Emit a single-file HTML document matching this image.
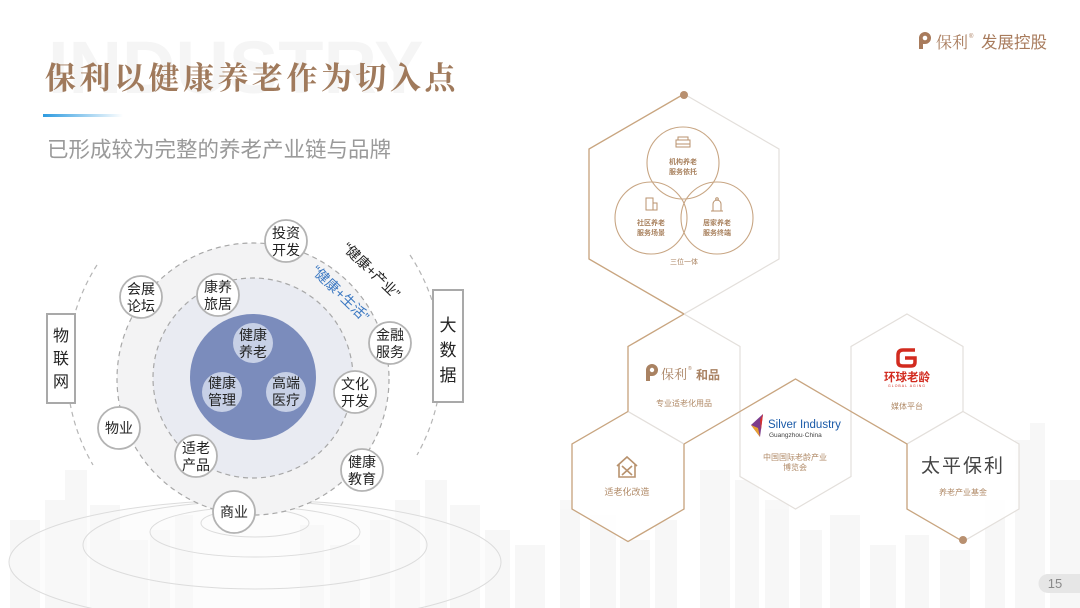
<!DOCTYPE html>
<html><head><meta charset="utf-8"><style>
html,body{margin:0;padding:0;background:#fff;}
body{width:1080px;height:608px;overflow:hidden;position:relative;}
svg{position:absolute;left:0;top:0;}
</style></head><body>
<svg width="1080" height="608" viewBox="0 0 1080 608" xmlns="http://www.w3.org/2000/svg" font-family="'Liberation Sans','Noto Sans CJK SC',sans-serif">
<defs>
<linearGradient id="bl" x1="0" x2="1" y1="0" y2="0"><stop offset="0" stop-color="#2d9be0"/><stop offset="1" stop-color="#2d9be0" stop-opacity="0"/></linearGradient>
</defs>
<!-- skyline -->
<g fill="#f2f2f2" opacity="0.55">
<rect x="10" y="520" width="30" height="88"/><rect x="45" y="500" width="22" height="108"/><rect x="65" y="470" width="22" height="138"/>
<rect x="90" y="505" width="30" height="103"/><rect x="120" y="540" width="28" height="68"/><rect x="150" y="530" width="20" height="78"/>
<rect x="175" y="515" width="18" height="93"/><rect x="300" y="525" width="24" height="83"/><rect x="330" y="545" width="30" height="63"/>
<rect x="370" y="520" width="20" height="88"/><rect x="395" y="500" width="25" height="108"/><rect x="425" y="480" width="22" height="128"/>
<rect x="450" y="505" width="30" height="103"/><rect x="485" y="530" width="25" height="78"/><rect x="515" y="545" width="30" height="63"/>
<rect x="560" y="500" width="20" height="108"/><rect x="590" y="515" width="26" height="93"/><rect x="620" y="540" width="30" height="68"/>
<rect x="655" y="520" width="22" height="88"/><rect x="700" y="470" width="30" height="138"/><rect x="735" y="480" width="24" height="128"/>
<rect x="765" y="500" width="24" height="108"/><rect x="800" y="530" width="22" height="78"/><rect x="830" y="515" width="30" height="93"/>
<rect x="870" y="545" width="26" height="63"/><rect x="905" y="535" width="24" height="73"/><rect x="940" y="550" width="30" height="58"/>
<rect x="985" y="500" width="20" height="108"/><rect x="1015" y="440" width="22" height="168"/><rect x="1030" y="423" width="15" height="185"/>
<rect x="1050" y="480" width="30" height="128"/>
</g>
<!-- watermark -->
<text x="48" y="93" font-size="74" font-weight="bold" fill="#f5f5f5" font-family="'Liberation Sans',sans-serif">INDUSTRY</text>
<!-- title -->
<text x="45" y="89" font-size="31" font-weight="bold" fill="#a07a5c" letter-spacing="3.5" font-family="'Liberation Serif','Noto Serif CJK SC',serif">保利以健康养老作为切入点</text>
<rect x="43" y="114" width="80" height="3" fill="url(#bl)"/>
<text x="47" y="157" font-size="21.5" fill="#9a9a9a" font-family="'Liberation Sans','Noto Sans CJK SC',sans-serif">已形成较为完整的养老产业链与品牌</text>
<!-- top right logo -->
<g fill="#a87b5c">
<path d="M919 49 L919 38 A6 6 0 1 1 925 44 L923 44 L923 49 Z"/>
<circle cx="925" cy="38" r="2.3" fill="#fff"/>
<text x="936" y="48" font-size="16" font-family="'Liberation Serif','Noto Serif CJK SC',serif">保利</text>
<text x="969" y="38" font-size="6">®</text>
<text x="981" y="48" font-size="16.5">发展控股</text>
</g>
<!-- bottom ellipses -->
<g fill="none" stroke="#dcdcdc" stroke-width="1">
<ellipse cx="255" cy="562" rx="246" ry="62" fill="#fafafa" fill-opacity="0.5"/>
<ellipse cx="255" cy="545" rx="172" ry="44"/>
<ellipse cx="255" cy="532" rx="105" ry="25"/>
<ellipse cx="255" cy="523" rx="54" ry="14"/>
</g>
<!-- outer arcs -->
<g fill="none" stroke="#b5b5b5" stroke-width="1.2" stroke-dasharray="5 4">
<path d="M97 265 A192 192 0 0 0 93 465"/>
<path d="M410 255 A192 192 0 0 1 417 455"/>
</g>
<!-- circles -->
<circle cx="253" cy="379" r="136" fill="#f3f3f4" stroke="#a8a8a8" stroke-width="1.2" stroke-dasharray="5 4"/>
<circle cx="253" cy="378" r="100" fill="#e9ebf2" stroke="#a8a8a8" stroke-width="1.2" stroke-dasharray="5 4"/>
<circle cx="253" cy="377" r="63" fill="#7b8cbc"/>
<g fill="#c7d0e6">
<circle cx="253" cy="343" r="20"/><circle cx="222" cy="392" r="20"/><circle cx="286" cy="392" r="20"/>
</g>
<g font-size="14" fill="#222" text-anchor="middle">
<text x="253" y="340">健康</text><text x="253" y="357">养老</text>
<text x="222" y="388">健康</text><text x="222" y="405">管理</text>
<text x="286" y="388">高端</text><text x="286" y="405">医疗</text>
</g>
<!-- small circles -->
<g fill="#fff" stroke="#b3b3b3" stroke-width="1.8">
<circle cx="286" cy="241" r="21"/><circle cx="141" cy="297" r="21"/><circle cx="218" cy="295" r="21"/>
<circle cx="390" cy="343" r="21"/><circle cx="355" cy="392" r="21"/><circle cx="119" cy="428" r="21"/>
<circle cx="196" cy="456" r="21"/><circle cx="362" cy="470" r="21"/><circle cx="234" cy="512" r="21"/>
</g>
<g font-size="14" fill="#222" text-anchor="middle">
<text x="286" y="238">投资</text><text x="286" y="255">开发</text>
<text x="141" y="294">会展</text><text x="141" y="311">论坛</text>
<text x="218" y="292">康养</text><text x="218" y="309">旅居</text>
<text x="390" y="340">金融</text><text x="390" y="357">服务</text>
<text x="355" y="389">文化</text><text x="355" y="406">开发</text>
<text x="119" y="433">物业</text>
<text x="196" y="453">适老</text><text x="196" y="470">产品</text>
<text x="362" y="467">健康</text><text x="362" y="484">教育</text>
<text x="234" y="517">商业</text>
</g>
<!-- rotated labels -->
<text x="0" y="0" font-size="14" fill="#222" text-anchor="middle" transform="translate(368,274) rotate(44)">“健康+产业”</text>
<text x="0" y="0" font-size="14" fill="#3b78c2" text-anchor="middle" transform="translate(337,297) rotate(44)">“健康+生活”</text>
<!-- boxes -->
<rect x="47" y="314" width="28" height="89" fill="#fff" stroke="#a9a9a9" stroke-width="2"/>
<g font-size="16" fill="#222" text-anchor="middle">
<text x="61" y="341">物</text><text x="61" y="364">联</text><text x="61" y="387">网</text>
</g>
<rect x="433" y="290" width="30" height="112" fill="#fff" stroke="#a9a9a9" stroke-width="2"/>
<g font-size="17" fill="#222" text-anchor="middle">
<text x="448" y="331">大</text><text x="448" y="356">数</text><text x="448" y="381">据</text>
</g>
<!-- hexagons grey -->
<g fill="#fff" fill-opacity="0.85" stroke="#e3dfdb" stroke-width="1.2">
<polygon points="684,94 779,149 779,259 684,314 589,259 589,149"/>
<polygon points="684,314 740,346.5 740,411.5 684,444 628,411.5 628,346.5"/>
<polygon points="628,411.5 684,444 684,509 628,541.5 572,509 572,444"/>
<polygon points="795.5,379 851,411.5 851,476.5 795.5,509 740,476.5 740,411.5"/>
<polygon points="907,314 963,346.5 963,411.5 907,444 851,411.5 851,346.5"/>
<polygon points="963,411.5 1019,444 1019,509 963,541.5 907,509 907,444"/>
</g>
<g fill="none" stroke="#c9a57f" stroke-width="1.3">
<polyline points="684,314 589,259 589,149 684,94"/>
<polyline points="684,444 740,411.5 795.5,379 851,411.5 907,444 907,509 963,541.5"/>
<polyline points="628,411.5 628,346.5 684,314"/>
<polyline points="628,411.5 572,444 572,509 628,541.5 684,509 684,444"/>
</g>
<circle cx="684" cy="95" r="4" fill="#b89070"/>
<circle cx="963" cy="540" r="4" fill="#b89070"/>
<!-- top hex venn -->
<g fill="none" stroke="#c8a684" stroke-width="1.1">
<circle cx="683" cy="163" r="36"/><circle cx="651" cy="218" r="36"/><circle cx="717" cy="218" r="36"/>
</g>
<g fill="none" stroke="#b8926e" stroke-width="1">
<rect x="676" y="140" width="14" height="7"/><rect x="678" y="137" width="10" height="3"/><line x1="676" y1="144" x2="690" y2="144"/>
<rect x="646" y="198" width="7" height="12"/><rect x="653" y="203" width="4" height="7"/>
<path d="M713 211 L713 204 A4 4 0 0 1 721 204 L721 211 Z M711 211 L723 211"/><circle cx="717" cy="199" r="1.3"/>
</g>
<g font-size="7" fill="#a9825f" text-anchor="middle" font-weight="bold">
<text x="683" y="164">机构养老</text><text x="683" y="174">服务依托</text>
<text x="651" y="225">社区养老</text><text x="651" y="235">服务场景</text>
<text x="717" y="225">居家养老</text><text x="717" y="235">服务终端</text>
<text x="684" y="264" font-weight="normal">三位一体</text>
</g>
<!-- 和品 -->
<g fill="#a98262">
<path d="M646 381 L646 370 A6 6 0 1 1 652 376 L650 376 L650 381 Z"/>
<circle cx="652" cy="370" r="2.2" fill="#fff"/>
<text x="661" y="379" font-size="13" font-family="'Liberation Serif','Noto Serif CJK SC',serif">保利</text>
<text x="688" y="370" font-size="5">®</text>
<text x="696" y="379" font-size="12" font-weight="bold">和品</text>
</g>
<g font-size="8" fill="#b08a67" text-anchor="middle">
<text x="684" y="406">专业适老化用品</text>
<text x="627" y="495" font-size="9">适老化改造</text>
<text x="795" y="460">中国国际老龄产业</text><text x="795" y="470">博览会</text>
<text x="907" y="409">媒体平台</text>
<text x="963" y="495">养老产业基金</text>
</g>
<!-- house icon -->
<g fill="none" stroke="#b8926e" stroke-width="1.6">
<path d="M617 466 L627 457 L637 466 M619 464 L619 477 L635 477 L635 464"/>
<path d="M622 466 L632 475 M632 466 L622 475"/>
</g>
<!-- Silver industry -->
<path d="M751 425 L763 414 L760 437 Z" fill="#7c3c8c"/>
<path d="M751 425 L758 428 L760 437 Z" fill="#e8a030"/>
<path d="M760 420 L763 414 L761 430 Z" fill="#d8302c"/>
<text x="768" y="428" font-size="11.5" fill="#1a5aa8">Silver Industry</text>
<text x="769" y="437" font-size="6.5" fill="#444">Guangzhou·China</text>
<!-- 环球老龄 -->
<g fill="none" stroke="#d22b1f" stroke-width="3.5">
<path d="M915 350 L903 350 Q898 350 898 355 L898 362 Q898 366 903 366 L911 366 Q915 366 915 362 L915 358 L905 358"/>
</g>
<text x="907" y="381" font-size="11.5" font-weight="bold" fill="#d22b1f" text-anchor="middle">环球老龄</text>
<text x="907" y="387" font-size="3.5" fill="#d22b1f" text-anchor="middle" letter-spacing="1">GLOBAL AGING</text>
<!-- 太平保利 -->
<text x="963" y="472" font-size="19" fill="#444" text-anchor="middle" letter-spacing="2">太平保利</text>
<!-- page num -->
<path d="M1048 574 L1080 574 L1080 593 L1048 593 A9.5 9.5 0 0 1 1048 574 Z" fill="#e6e6e6"/>
<text x="1055" y="588" font-size="13" fill="#8a8a8a" text-anchor="middle">15</text>
</svg>
</body></html>
